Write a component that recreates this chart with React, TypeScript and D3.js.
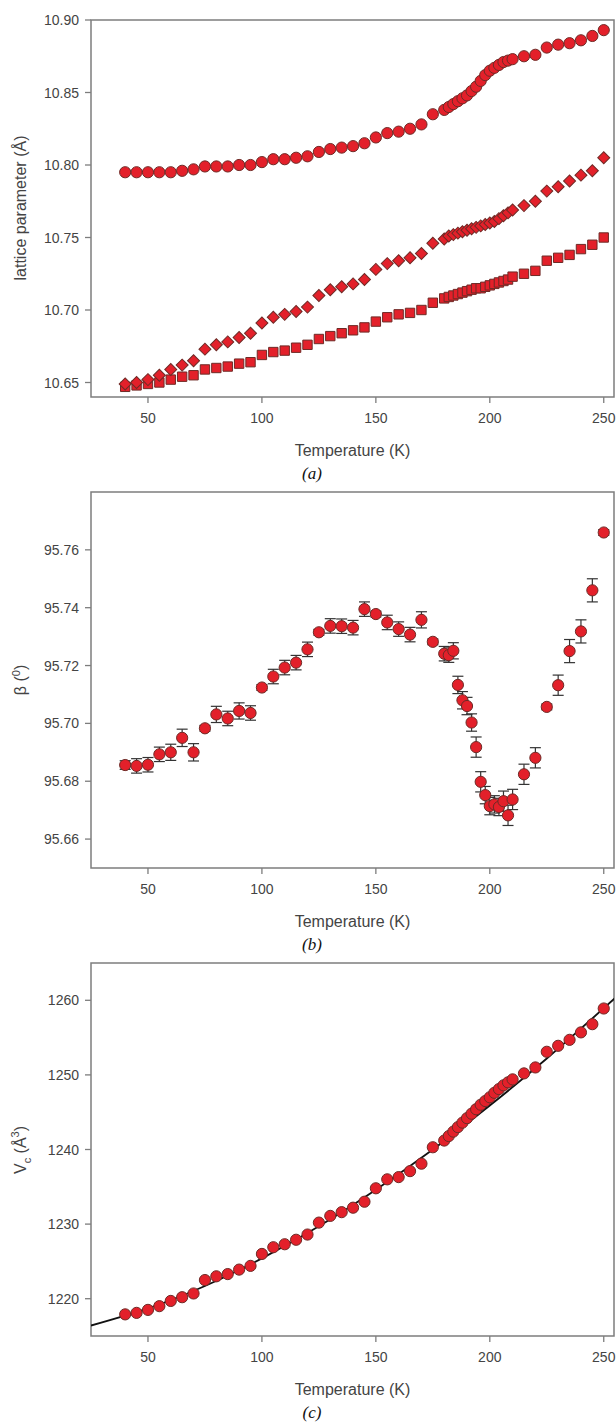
import React, { useEffect, useRef } from 'react';
import * as d3 from 'd3';

// temperatures (K), shared by all three panels
const temps = [
  40, 45, 50, 55, 60, 65, 70, 75, 80, 85, 90, 95, 100, 105, 110, 115, 120, 125, 130, 135,
  140, 145, 150, 155, 160, 165, 170, 175,
  180, 182, 184, 186, 188, 190, 192, 194, 196, 198, 200, 202, 204, 206, 208, 210,
  215, 220, 225, 230, 235, 240, 245, 250,
];

// (a) lattice parameters
const latticeCircle = [
  10.795, 10.795, 10.795, 10.795, 10.795, 10.796, 10.797, 10.799, 10.799, 10.799, 10.800, 10.800,
  10.802, 10.804, 10.804, 10.805, 10.806, 10.809, 10.811, 10.812, 10.813, 10.815, 10.819, 10.822,
  10.823, 10.825, 10.828, 10.835,
  10.838, 10.840, 10.842, 10.844, 10.846, 10.848, 10.851, 10.854, 10.858, 10.862, 10.865, 10.867,
  10.869, 10.871, 10.872, 10.873,
  10.875, 10.876, 10.881, 10.883, 10.884, 10.886, 10.889, 10.893,
];
const latticeDiamond = [
  10.649, 10.650, 10.652, 10.655, 10.659, 10.662, 10.665, 10.673, 10.676, 10.678, 10.681, 10.684,
  10.691, 10.695, 10.697, 10.699, 10.702, 10.710, 10.714, 10.716, 10.718, 10.721, 10.728, 10.732,
  10.734, 10.736, 10.739, 10.746,
  10.749, 10.751, 10.752, 10.753, 10.754, 10.755, 10.756, 10.757, 10.758, 10.759, 10.760, 10.761,
  10.763, 10.765, 10.767, 10.769,
  10.772, 10.775, 10.782, 10.785, 10.789, 10.793, 10.796, 10.805,
];
const latticeSquare = [
  10.647, 10.648, 10.649, 10.650, 10.652, 10.654, 10.655, 10.659, 10.660, 10.661, 10.663, 10.664,
  10.669, 10.671, 10.672, 10.674, 10.676, 10.680, 10.682, 10.684, 10.686, 10.688, 10.692, 10.695,
  10.697, 10.698, 10.700, 10.705,
  10.708, 10.709, 10.710, 10.711, 10.712, 10.713, 10.714, 10.715, 10.715, 10.716, 10.717, 10.718,
  10.719, 10.720, 10.721, 10.723,
  10.725, 10.727, 10.734, 10.736, 10.738, 10.742, 10.745, 10.750,
];

// (b) beta angle and its error
const beta = [
  95.6856, 95.6853, 95.6857, 95.6893, 95.6900, 95.6950, 95.6900, 95.6983, 95.7031, 95.7017, 95.7043,
  95.7036, 95.7124, 95.7162, 95.7193, 95.7210, 95.7256, 95.7315, 95.7337, 95.7336, 95.7331, 95.7395,
  95.7378, 95.7349, 95.7326, 95.7307, 95.7358, 95.7282,
  95.7241, 95.7236, 95.7251, 95.7133, 95.7080, 95.7060, 95.7003, 95.6918, 95.6798, 95.6752, 95.6714,
  95.6720, 95.6711, 95.6731, 95.6682, 95.6737,
  95.6824, 95.6881, 95.7057, 95.7132, 95.7250, 95.7318, 95.7460, 95.7660,
];
const betaErr = [
  0.0015, 0.0025, 0.0025, 0.0025, 0.0028, 0.003, 0.003, 0.001, 0.0028, 0.0025, 0.0028, 0.0025,
  0.001, 0.0025, 0.0025, 0.0025, 0.0025, 0.001, 0.0025, 0.0025, 0.0025, 0.0025, 0.001, 0.0025,
  0.0025, 0.0025, 0.0028, 0.001,
  0.0025, 0.0025, 0.0028, 0.003, 0.003, 0.003, 0.003, 0.0035, 0.0035, 0.003, 0.003, 0.003,
  0.003, 0.0035, 0.0035, 0.0035,
  0.0035, 0.0035, 0.001, 0.0035, 0.004, 0.004, 0.004, 0.001,
];

// (c) cell volume and fitted curve
const volume = [
  1217.9, 1218.1, 1218.5, 1219.0, 1219.7, 1220.2, 1220.7, 1222.5, 1223.0, 1223.3, 1223.9, 1224.4,
  1226.0, 1226.9, 1227.3, 1227.9, 1228.6, 1230.2, 1231.1, 1231.6, 1232.2, 1233.0, 1234.8, 1236.0,
  1236.3, 1237.1, 1238.1, 1240.3,
  1241.2, 1241.8, 1242.4, 1243.0, 1243.6, 1244.2, 1244.8, 1245.4, 1246.0, 1246.5, 1247.0, 1247.6,
  1248.1, 1248.6, 1249.0, 1249.4,
  1250.2, 1251.0, 1253.1, 1253.9, 1254.7, 1255.7, 1256.8, 1258.9,
];
const fitTemps = [25, 50, 75, 100, 125, 150, 175, 200, 225, 255];
const fitVolume = [1216.4, 1218.7, 1221.7, 1225.4, 1229.7, 1234.6, 1240.0, 1245.9, 1252.2, 1260.3];

const xTicks = [50, 100, 150, 200, 250];
const latticeTicks = [10.65, 10.7, 10.75, 10.8, 10.85, 10.9];
const betaTicks = [95.66, 95.68, 95.7, 95.72, 95.74, 95.76];
const volumeTicks = [1220, 1230, 1240, 1250, 1260];

const W = 616;
const H = 1422;
const left = 91;
const right = 614;
const fill = '#e3202a';
const edge = '#6e2a26';
const axisColor = '#7d7d7d';
const textColor = '#444';
const sans = '"Liberation Sans", Arial, sans-serif';

function drawFrame(g, x, y, top, bottom, yTicks, fmt, caption) {
  g.append('rect')
    .attr('x', left).attr('y', top)
    .attr('width', right - left).attr('height', bottom - top)
    .attr('fill', 'none').attr('stroke', axisColor).attr('stroke-width', 1.5);

  xTicks.forEach((t) => {
    g.append('line')
      .attr('x1', x(t)).attr('x2', x(t))
      .attr('y1', bottom).attr('y2', bottom + 6)
      .attr('stroke', axisColor).attr('stroke-width', 1.3);
    g.append('text')
      .attr('x', x(t)).attr('y', bottom + 26)
      .attr('text-anchor', 'middle')
      .style('font', `14px ${sans}`).style('fill', textColor)
      .text(t);
  });

  yTicks.forEach((t) => {
    g.append('line')
      .attr('x1', left - 6).attr('x2', left)
      .attr('y1', y(t)).attr('y2', y(t))
      .attr('stroke', axisColor).attr('stroke-width', 1.3);
    g.append('text')
      .attr('x', left - 12).attr('y', y(t) + 5)
      .attr('text-anchor', 'end')
      .style('font', `14px ${sans}`).style('fill', textColor)
      .text(fmt(t));
  });

  g.append('text')
    .attr('x', (left + right) / 2).attr('y', bottom + 59)
    .attr('text-anchor', 'middle')
    .style('font', `16px ${sans}`).style('fill', textColor)
    .text('Temperature (K)');

  g.append('text')
    .attr('x', 312).attr('y', bottom + 82)
    .attr('text-anchor', 'middle')
    .style('font', 'italic 17px "Liberation Serif", "Times New Roman", serif').style('fill', '#111')
    .text(caption);
}

function yTitle(g, cy) {
  return g.append('text')
    .attr('transform', `translate(26, ${cy}) rotate(-90)`)
    .attr('text-anchor', 'middle')
    .style('font', `16px ${sans}`).style('fill', textColor);
}

export default function App() {
  const ref = useRef(null);

  useEffect(() => {
    const svg = d3.select(ref.current);
    svg.selectAll('*').remove();

    const x = d3.scaleLinear().domain([25, 254.5]).range([left, right]);

    // ---- panel (a)
    const ya = d3.scaleLinear().domain([10.64, 10.9]).range([397, 20]);
    const ga = svg.append('g');
    drawFrame(ga, x, ya, 20, 397, latticeTicks, d3.format('.2f'), '(a)');
    yTitle(ga, 208).text('lattice parameter (Å)');

    const square = d3.symbol().type(d3.symbolSquare).size(88);
    const diamond = d3.symbol().type(d3.symbolSquare).size(72);

    ga.append('g').selectAll('path')
      .data(temps)
      .enter().append('path')
      .attr('d', square)
      .attr('transform', (d, i) => `translate(${x(d)}, ${ya(latticeSquare[i])})`)
      .attr('fill', fill).attr('stroke', edge).attr('stroke-width', 1);

    ga.append('g').selectAll('path')
      .data(temps)
      .enter().append('path')
      .attr('d', diamond)
      .attr('transform', (d, i) => `translate(${x(d)}, ${ya(latticeDiamond[i])}) rotate(45)`)
      .attr('fill', fill).attr('stroke', edge).attr('stroke-width', 1);

    ga.append('g').selectAll('circle')
      .data(temps)
      .enter().append('circle')
      .attr('cx', (d) => x(d))
      .attr('cy', (d, i) => ya(latticeCircle[i]))
      .attr('r', 5.6)
      .attr('fill', fill).attr('stroke', edge).attr('stroke-width', 1);

    // ---- panel (b)
    const yb = d3.scaleLinear().domain([95.65, 95.78]).range([868, 492]);
    const gb = svg.append('g');
    drawFrame(gb, x, yb, 492, 868, betaTicks, d3.format('.2f'), '(b)');
    const tb = yTitle(gb, 680);
    tb.append('tspan').text('β (');
    tb.append('tspan').attr('dy', -6).style('font-size', '11px').text('0');
    tb.append('tspan').attr('dy', 6).text(')');

    const bars = gb.append('g').attr('stroke', '#333').attr('stroke-width', 1.2);
    temps.forEach((t, i) => {
      const cx = x(t);
      const y0 = yb(beta[i] - betaErr[i]);
      const y1 = yb(beta[i] + betaErr[i]);
      bars.append('line').attr('x1', cx).attr('x2', cx).attr('y1', y0).attr('y2', y1);
      bars.append('line').attr('x1', cx - 5.5).attr('x2', cx + 5.5).attr('y1', y0).attr('y2', y0);
      bars.append('line').attr('x1', cx - 5.5).attr('x2', cx + 5.5).attr('y1', y1).attr('y2', y1);
    });

    gb.append('g').selectAll('circle')
      .data(temps)
      .enter().append('circle')
      .attr('cx', (d) => x(d))
      .attr('cy', (d, i) => yb(beta[i]))
      .attr('r', 5.6)
      .attr('fill', fill).attr('stroke', edge).attr('stroke-width', 1);

    // ---- panel (c)
    const yc = d3.scaleLinear().domain([1215, 1265]).range([1336, 963]);
    const gc = svg.append('g');
    drawFrame(gc, x, yc, 963, 1336, volumeTicks, d3.format('d'), '(c)');
    const tc = yTitle(gc, 1150);
    tc.append('tspan').text('V');
    tc.append('tspan').attr('dy', 5).style('font-size', '11px').text('c');
    tc.append('tspan').attr('dy', -5).text(' (Å');
    tc.append('tspan').attr('dy', -7).style('font-size', '11px').text('3');
    tc.append('tspan').attr('dy', 7).text(')');

    svg.append('clipPath').attr('id', 'clip-c')
      .append('rect')
      .attr('x', left).attr('y', 963)
      .attr('width', right - left).attr('height', 1336 - 963);

    const line = d3.line()
      .x((d) => x(d[0]))
      .y((d) => yc(d[1]))
      .curve(d3.curveNatural);

    gc.append('path')
      .datum(fitTemps.map((t, i) => [t, fitVolume[i]]))
      .attr('d', line)
      .attr('clip-path', 'url(#clip-c)')
      .attr('fill', 'none').attr('stroke', '#111').attr('stroke-width', 1.8);

    gc.append('g').selectAll('circle')
      .data(temps)
      .enter().append('circle')
      .attr('cx', (d) => x(d))
      .attr('cy', (d, i) => yc(volume[i]))
      .attr('r', 5.6)
      .attr('fill', fill).attr('stroke', edge).attr('stroke-width', 1);
  }, []);

  return (
    <svg
      ref={ref}
      width={W}
      height={H}
      style={{ position: 'absolute', left: 0, top: 0, background: '#fff' }}
    />
  );
}
